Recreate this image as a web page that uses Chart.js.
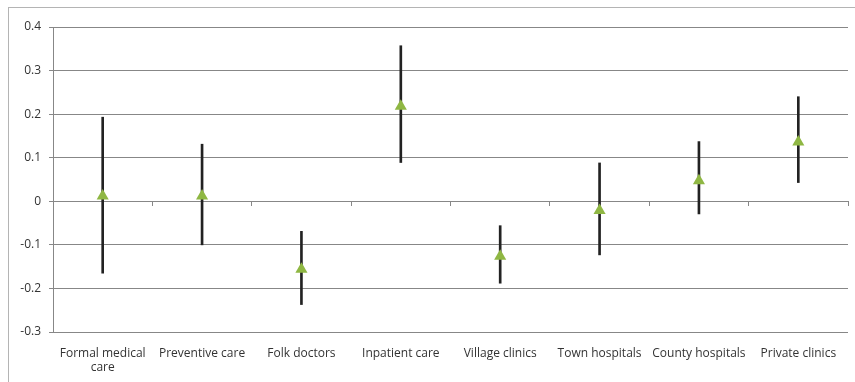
<!DOCTYPE html>
<html>
<head>
<meta charset="utf-8">
<script src="https://cdn.jsdelivr.net/npm/chart.js@4/dist/chart.umd.min.js"></script>
<style>
  html, body { margin: 0; padding: 0; background: #fff; }
  #wrap { position: relative; width: 855px; height: 382px; overflow: hidden; }
  #frame { position: absolute; left: 8px; top: 7px; width: 900px; height: 500px;
           border: 1px solid #b4b4b4; pointer-events: none; }
  canvas { position: absolute; left: 0; top: 0; }
</style>
</head>
<body>
<div id="wrap">
  <canvas id="c" width="855" height="382"></canvas>
  <div id="frame"></div>
</div>
<script>
// Care types compared
const categories = [
  ['Formal medical', 'care'],
  'Preventive care',
  'Folk doctors',
  'Inpatient care',
  'Village clinics',
  'Town hospitals',
  'County hospitals',
  'Private clinics'
];

// Point estimates and their confidence bounds
const estimates = [0.012, 0.012, -0.156, 0.218, -0.126, -0.021, 0.047, 0.136];
const lowerBounds = [-0.165, -0.100, -0.237, 0.089, -0.188, -0.123, -0.029, 0.043];
const upperBounds = [0.193, 0.131, -0.069, 0.357, -0.056, 0.088, 0.137, 0.240];

// Value axis ticks
const yTicks = [-0.3, -0.2, -0.1, 0, 0.1, 0.2, 0.3, 0.4];
const yTickLabels = ['-0.3', '-0.2', '-0.1', '0', '0.1', '0.2', '0.3', '0.4'];

const intervals = lowerBounds.map((lo, i) => [lo, upperBounds[i]]);

const gridGray = '#878787';
const textColor = '#333333';
const font = { family: '"Open Sans", "Liberation Sans", sans-serif', size: 12 };

new Chart(document.getElementById('c'), {
  type: 'bar',
  data: {
    labels: categories,
    datasets: [
      {
        type: 'line',
        label: 'Estimate',
        data: estimates,
        showLine: false,
        pointStyle: 'triangle',
        pointRadius: 7,
        pointHoverRadius: 7,
        pointBackgroundColor: '#8fb743',
        pointBorderColor: '#8fb743',
        pointBorderWidth: 0,
        order: 0,
        xAxisID: 'x',
        yAxisID: 'y'
      },
      {
        type: 'bar',
        label: 'Interval',
        data: intervals,
        backgroundColor: '#222222',
        borderWidth: 0,
        barThickness: 2,
        order: 1,
        xAxisID: 'x',
        yAxisID: 'y'
      }
    ]
  },
  options: {
    responsive: false,
    animation: false,
    layout: { padding: { left: 9, top: 27, right: 7, bottom: 0 } },
    plugins: { legend: { display: false }, tooltip: { enabled: false } },
    scales: {
      x: {
        type: 'category',
        position: 'bottom',
        offset: true,
        grid: { display: false },
        border: { display: false },
        ticks: { color: textColor, font: font, padding: 6, maxRotation: 0, autoSkip: false },
        afterFit: s => { s.height = 50; }
      },
      xZero: {
        type: 'category',
        position: { y: 0 },
        offset: true,
        grid: { drawOnChartArea: false, color: gridGray, tickLength: 4, offset: true },
        border: { display: true, color: gridGray, width: 1 },
        ticks: { display: false }
      },
      y: {
        min: -0.3,
        max: 0.4,
        afterBuildTicks: s => { s.ticks = yTicks.map(v => ({ value: v })); },
        ticks: {
          color: textColor,
          font: font,
          padding: 8,
          callback: (v, i) => yTickLabels[i]
        },
        grid: { color: gridGray, lineWidth: 1, tickLength: 4 },
        border: { display: true, color: gridGray, width: 1 },
        afterFit: s => { s.width = 44; }
      }
    }
  }
});
</script>
</body>
</html>
